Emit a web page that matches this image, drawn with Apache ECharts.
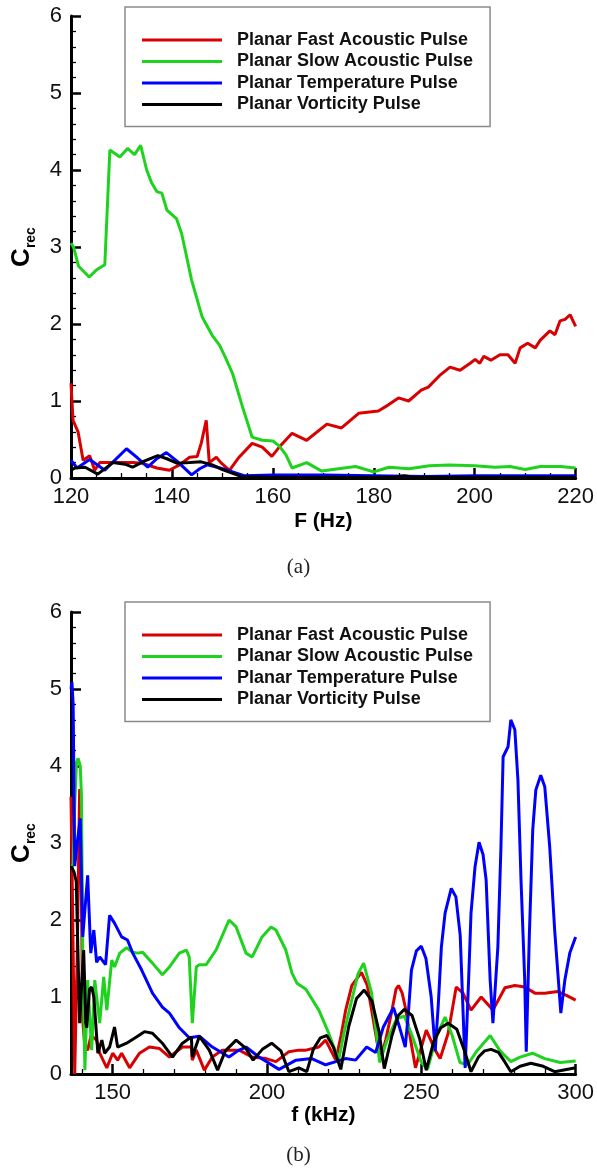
<!DOCTYPE html>
<html><head><meta charset="utf-8">
<script src="https://cdn.jsdelivr.net/npm/echarts@6/dist/echarts.min.js"></script>
<style>html,body{margin:0;padding:0;background:#fff}#c{width:597px;height:1173px}</style>
</head><body><div id="c"></div>
<script>
// ---------------- DATA ----------------
const seriesNames = ['Planar Fast Acoustic Pulse','Planar Slow Acoustic Pulse','Planar Temperature Pulse','Planar Vorticity Pulse'];
const seriesColors = ['#d80000','#1ed21e','#0000ff','#000000'];

// panel (a): F (Hz)
const aFast = [[120,1.23],[120.4,0.75],[121.4,0.6],[122.4,0.23],[123.7,0.29],[124.7,0.1],[125.7,0.2],[127.7,0.2],[130.3,0.2],[132.2,0.2],[134.2,0.19],[137,0.13],[139.5,0.1],[141.5,0.17],[143.5,0.27],[145,0.28],[145.8,0.45],[146.8,0.75],[147.4,0.2],[148.8,0.27],[149.7,0.2],[151.4,0.1],[153.3,0.27],[155.9,0.45],[157.9,0.4],[159.8,0.28],[161.5,0.42],[163.8,0.58],[166.7,0.49],[170.7,0.7],[173.6,0.65],[177,0.84],[180.9,0.87],[182.9,0.95],[184.9,1.04],[186.9,1.0],[189.4,1.14],[190.8,1.18],[193.2,1.34],[195.1,1.44],[197.1,1.4],[199.1,1.49],[200.1,1.54],[201,1.49],[201.8,1.58],[203.2,1.53],[205,1.6],[206.6,1.6],[208,1.49],[209,1.69],[210.5,1.75],[212,1.69],[213,1.79],[214.9,1.91],[215.9,1.86],[216.9,2.04],[217.9,2.06],[218.9,2.12],[220,1.97]];
const aSlow = [[120,3.05],[120.5,3.0],[121.5,2.75],[123.6,2.61],[125,2.7],[126.7,2.77],[127.7,4.26],[129.7,4.17],[131.2,4.28],[132.6,4.2],[133.8,4.32],[135,4.0],[136,3.83],[137,3.72],[138,3.7],[139,3.48],[140.9,3.37],[141.9,3.18],[142.5,3.0],[143.9,2.57],[146,2.09],[148,1.85],[149.4,1.73],[150.5,1.58],[152,1.36],[154,0.92],[155.9,0.53],[157.9,0.49],[160,0.48],[161.2,0.42],[162.6,0.3],[163.8,0.13],[166.7,0.2],[169.7,0.09],[173,0.12],[176.4,0.15],[180,0.08],[183,0.14],[187,0.12],[191,0.16],[195,0.17],[200,0.16],[204,0.14],[207,0.15],[210,0.11],[213,0.15],[217,0.15],[220,0.13]];
const aTemp = [[120,0.23],[121.2,0.13],[123.7,0.24],[126.7,0.1],[128.5,0.22],[131,0.38],[133,0.27],[135.2,0.14],[137,0.25],[138.9,0.33],[141,0.22],[143.9,0.04],[145.5,0.12],[147,0.17],[149,0.14],[151,0.1],[154.3,0.03],[160,0.04],[170,0.04],[180,0.03],[190,0.02],[200,0.03],[210,0.03],[220,0.03]];
const aVort = [[120,0.1],[120.8,0.13],[122.8,0.14],[125.3,0.05],[128.3,0.2],[130.7,0.18],[132.2,0.14],[134.5,0.22],[137.2,0.29],[139,0.25],[141.1,0.19],[143.5,0.2],[145.8,0.21],[148,0.17],[150,0.11],[153.7,0.02],[160,0.01],[170,0.01],[180,0.01],[184,0.01],[186,0.03],[188,0.01],[200,0.01],[220,0.01]];

// panel (b): f (kHz)
const bFast = [[136.5,3.6],[137,2.2],[137.7,0],[138.5,1.5],[139.3,3.7],[139.8,2.6],[140.3,0.7],[141,0.35],[141.9,0.31],[143,0.5],[144.8,0.44],[145.8,0.27],[148.1,0.08],[150,0.27],[151.6,0.18],[152.9,0.27],[155.5,0.08],[158.7,0.27],[161.9,0.35],[165.2,0.33],[168.4,0.22],[172.6,0.35],[175.5,0.35],[175.8,0.18],[177.1,0.31],[179.7,0.05],[182.3,0.22],[185.5,0.31],[191,0.31],[195.2,0.22],[199.7,0.2],[202.9,0.16],[207.1,0.29],[210.3,0.31],[212.6,0.31],[216.8,0.35],[219,0.44],[222.3,0.18],[224,0.5],[225.5,0.83],[227.5,1.15],[230.6,1.32],[232.5,1.15],[233.9,0.83],[235.5,0.45],[236.8,0.18],[238.5,0.45],[240.3,0.79],[241.8,1.1],[242.6,1.15],[243.8,1.05],[244.8,0.87],[246.5,0.45],[248.1,0.08],[251.6,0.57],[254.5,0.31],[256.1,0.2],[258.7,0.53],[261.3,1.13],[263.5,1.05],[266.1,0.83],[269.4,1.0],[273.2,0.83],[277.1,1.12],[280.3,1.15],[283.5,1.13],[286.8,1.05],[290,1.05],[294.2,1.07],[297,1.02],[300,0.96]];
const bSlow = [[136.5,2.7],[137.2,2.7],[137.7,3.5],[138.3,4.05],[138.8,4.1],[139.5,4.0],[139.9,3.6],[140.3,1.6],[141,0.05],[141.9,1.22],[143.2,0.31],[144.2,1.22],[145.8,0.66],[147.1,1.26],[148.1,0.83],[149.7,1.48],[150.6,1.39],[152.3,1.57],[154.5,1.64],[156.5,1.58],[158.1,1.57],[159.7,1.58],[162.9,1.44],[166.1,1.29],[168.4,1.39],[171.6,1.57],[173.9,1.61],[174.8,1.52],[175.8,0.66],[177.1,1.39],[178.1,1.42],[180.3,1.42],[183.5,1.61],[187.7,2.0],[190,1.91],[193.2,1.57],[195.2,1.52],[198.4,1.78],[201.3,1.91],[202.9,1.87],[206.1,1.61],[208.1,1.31],[209.7,1.18],[212.6,1.1],[216.8,0.83],[220,0.53],[223.2,0.18],[225.3,0.6],[227.4,0.95],[229.5,1.3],[231.3,1.44],[233.9,1.05],[235.5,0.5],[236.5,0.15],[239,0.45],[242,0.72],[244.5,0.75],[247,0.5],[250,0.15],[252,0.06],[255,0.5],[257.7,0.74],[260,0.5],[262.5,0.15],[265,0.12],[268,0.3],[272.3,0.5],[275.5,0.3],[279,0.16],[282,0.22],[286,0.27],[290,0.2],[295,0.15],[300,0.17]];
const bTemp = [[136.5,5.0],[136.8,5.09],[137.2,4.8],[137.7,2.7],[138.5,3.0],[139.5,3.32],[140.3,1.78],[141.9,2.58],[142.9,1.57],[143.9,1.87],[144.8,1.45],[145.8,1.52],[147.7,1.42],[149,2.06],[150.6,1.96],[152.9,1.78],[154.8,1.74],[156.5,1.57],[159.4,1.35],[162.9,1.05],[166.1,0.87],[168.4,0.79],[171.6,0.6],[174.8,0.47],[178.1,0.49],[182.3,0.35],[187.7,0.22],[190.5,0.3],[193.2,0.35],[197.4,0.22],[203.9,0.06],[209.4,0.18],[214.5,0.2],[219,0.12],[222.3,0.16],[225.5,0.2],[228.7,0.18],[232.3,0.35],[235.2,0.28],[237.7,0.61],[241,0.86],[243,0.6],[244.8,0.35],[245.8,0.79],[246.8,1.35],[248.4,1.6],[250,1.66],[251.5,1.5],[253.2,1.0],[254.5,0.3],[255.5,0.9],[256.5,1.65],[257.7,2.09],[259.7,2.41],[261.2,2.3],[262.6,1.8],[264.2,0.08],[265.3,1.2],[266.1,2.09],[267.4,2.69],[268.7,3.01],[270,2.85],[271,2.52],[272.3,1.22],[273.2,0.66],[274.8,1.65],[275.8,2.95],[276.5,4.12],[277.1,4.14],[278.1,4.25],[279,4.6],[280.3,4.47],[281.3,3.82],[282.3,2.52],[283.5,1.22],[284,0.29],[285,1.8],[286.1,3.17],[287.1,3.69],[288.7,3.88],[290,3.73],[291.6,2.95],[293.2,1.87],[295.2,0.79],[296.5,1.22],[298.1,1.57],[300,1.78]];
const bVort = [[136.5,2.7],[137.5,2.62],[138.2,2.5],[139.3,0.66],[140,1.2],[140.6,1.61],[141.3,0.66],[141.6,0.6],[142.5,1.1],[143.2,1.13],[143.9,1.0],[145.2,0.27],[146.5,0.44],[147.4,0.27],[149,0.35],[150.6,0.61],[151.6,0.35],[154.5,0.4],[157.7,0.48],[160.3,0.55],[162.9,0.53],[166.1,0.4],[169.4,0.22],[172.6,0.4],[175.5,0.48],[175.8,0.22],[178.1,0.49],[181.3,0.31],[184,0.05],[186.5,0.3],[190,0.44],[193,0.34],[195.5,0.18],[198.5,0.32],[201.5,0.4],[204.5,0.3],[207.1,0.03],[210.3,0.08],[212.9,0.03],[215,0.32],[217.3,0.47],[219.4,0.5],[221.5,0.35],[223.9,0.06],[226.5,0.62],[229,0.98],[231.5,1.09],[234,0.95],[236.3,0.55],[238,0.07],[240.5,0.5],[242.5,0.76],[244.5,0.84],[247,0.76],[249.5,0.45],[251.6,0.05],[254,0.42],[256.3,0.6],[258.7,0.66],[261.5,0.58],[264,0.3],[266.1,0.03],[268.5,0.22],[270.5,0.3],[272.6,0.32],[275,0.28],[277,0.16],[279,0.03],[282,0.1],[285.5,0.14],[289.5,0.1],[293.2,0.03],[300,0.08]];

// axis ticks / labels
const aXRange = [120, 220];
const bXRange = [136.5, 300];
const yRange = [0, 6];
const bXMajor = [150, 200, 250, 300];
const bXMinor = [140, 160, 170, 180, 190, 210, 220, 230, 240, 260, 270, 280, 290];
const panelLabels = ['(a)', '(b)'];
const xTitles = ['F (Hz)', 'f (kHz)'];

// ---------------- CHART ----------------
const FONT = '"Liberation Sans", Arial, sans-serif';
const chart = echarts.init(document.getElementById('c'), null, {renderer: 'canvas'});
const axisLine = {show: true, onZero: false, lineStyle: {color: '#000', width: 3}};
const majorTick = {show: true, inside: true, length: 10, lineStyle: {color: '#000', width: 2.5}};
const minorTickStyle = {show: true, length: 5, lineStyle: {color: '#000', width: 1.3}};
const labelStyle = {color: '#111', fontSize: 22, fontFamily: FONT};

function makeY(gi) {
  return {
    type: 'value', gridIndex: gi, min: yRange[0], max: yRange[1], interval: 1,
    axisLine, axisTick: majorTick, minorTick: Object.assign({splitNumber: 5}, minorTickStyle),
    splitLine: {show: false}, minorSplitLine: {show: false},
    axisLabel: Object.assign({margin: 9}, labelStyle),
    name: '{c|C}{s|rec}', nameLocation: 'middle', nameGap: 33, nameRotate: 90,
    nameTextStyle: {rich: {
      c: {fontSize: 26, fontWeight: 'bold', fontFamily: FONT, color: '#000'},
      s: {fontSize: 14, fontWeight: 'bold', fontFamily: FONT, color: '#000', padding: [18, 0, 0, 0]}
    }}
  };
}
const nameStyle = {fontSize: 21, fontWeight: 'bold', fontFamily: FONT, color: '#000'};

const option = {
  animation: false,
  backgroundColor: '#fff',
  grid: [
    {left: 71, top: 16, width: 507, height: 462},
    {left: 71, top: 612, width: 507, height: 462}
  ],
  xAxis: [
    {type: 'value', gridIndex: 0, min: aXRange[0], max: aXRange[1], interval: 20,
     axisLine, axisTick: majorTick, minorTick: Object.assign({splitNumber: 4}, minorTickStyle),
     splitLine: {show: false}, axisLabel: Object.assign({margin: 8}, labelStyle),
     name: xTitles[0], nameLocation: 'middle', nameGap: 33, nameTextStyle: nameStyle},
    {type: 'value', gridIndex: 1, min: bXRange[0], max: bXRange[1], position: 'bottom',
     axisLine, axisTick: Object.assign({customValues: bXMajor}, majorTick),
     splitLine: {show: false}, axisLabel: Object.assign({margin: 8, customValues: bXMajor}, labelStyle),
     name: xTitles[1], nameLocation: 'middle', nameGap: 29, nameTextStyle: nameStyle},
    {type: 'value', gridIndex: 1, min: bXRange[0], max: bXRange[1], position: 'bottom',
     axisLine: {show: false}, axisTick: Object.assign({customValues: bXMinor, inside: true}, minorTickStyle),
     splitLine: {show: false}, axisLabel: {show: false}}
  ],
  yAxis: [makeY(0), makeY(1)],
  legend: [0, 1].map(i => ({
    left: 125, top: i === 0 ? 7 : 602, orient: 'vertical',
    data: seriesNames, icon: 'rect', itemWidth: 80, itemHeight: 3, itemGap: 3.5,
    padding: [24, 17, 13, 17], borderColor: '#8a8a8a', borderWidth: 1.5,
    textStyle: {fontSize: 18, fontWeight: 'bold', fontFamily: FONT, color: '#111', padding: [0, 0, 0, 10], lineHeight: 18},
    selectedMode: false
  })),
  title: panelLabels.map((t, i) => ({
    text: t, left: 'center', top: i === 0 ? 552 : 1140,
    textStyle: {fontFamily: '"Liberation Serif", "DejaVu Serif", serif', fontSize: 21, fontWeight: 'normal', color: '#222'}
  })),
  series: []
};
const aData = [aFast, aSlow, aTemp, aVort];
const bData = [bFast, bSlow, bTemp, bVort];
[aData, bData].forEach((set, gi) => {
  set.forEach((d, k) => {
    option.series.push({
      type: 'line', name: seriesNames[k], xAxisIndex: gi, yAxisIndex: gi,
      data: d, showSymbol: false, symbol: 'none', clip: true,
      color: seriesColors[k], lineStyle: {color: seriesColors[k], width: 3}
    });
  });
});
chart.setOption(option);
</script></body></html>
